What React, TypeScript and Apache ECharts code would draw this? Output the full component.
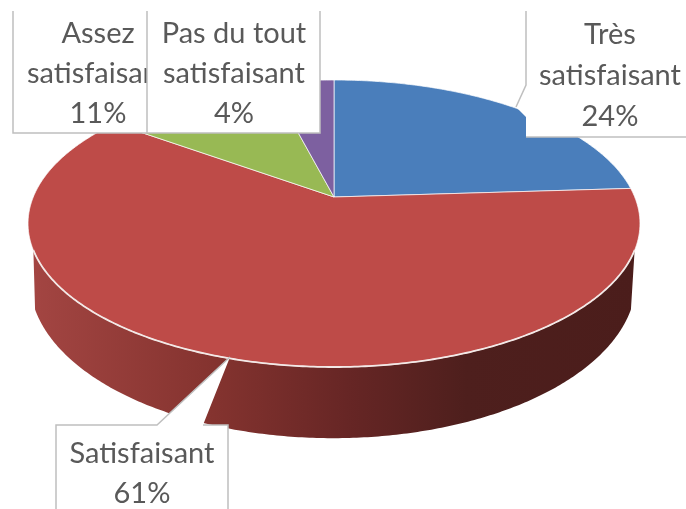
import React, { useEffect, useRef } from "react";
import * as echarts from "echarts";

const categories = ["Très\nsatisfaisant", "Satisfaisant", "Assez\nsatisfaisant", "Pas du tout\nsatisfaisant"];
const shares = [24, 61, 11, 4];
const sliceColors = ["#4a7ebb", "#be4b48", "#98b954", "#7d60a0"];

// Label drawing order follows the reference: Très, Satisfaisant, Assez, Pas du tout.
const labelBoxes = [
  {
    index: 0, cx: 610, lineYs: [32, 73, 114],
    fill: [[526, 11], [686, 11], [686, 137], [526, 137], [526, 117], [516, 107], [526, 85]],
    border: [[526, 11], [526, 85], [516, 107]],
    border2: [[526, 137], [686, 137]],
  },
  {
    index: 1, cx: 142, lineYs: [451, 491],
    fill: [[56, 425], [157, 425], [230, 357], [203, 425], [228, 425], [228, 509], [56, 509]],
    border: [[56, 509], [56, 425], [157, 425], [230, 357]],
    border2: [[203, 425], [228, 425], [228, 509]],
  },
  {
    index: 2, cx: 98, lineYs: [31, 71, 111],
    fill: [[13, 11], [147, 11], [147, 133], [13, 133]],
    border: [[13, 11], [13, 133], [147, 133]],
    border2: null,
  },
  {
    index: 3, cx: 234, lineYs: [31, 71, 111],
    fill: [[147, 11], [320, 11], [320, 133], [147, 133]],
    border: [[147, 11], [147, 133], [320, 133], [320, 11]],
    border2: null,
  },
];

const TOTAL = shares.reduce((a, b) => a + b, 0);
const K = 0.1847;
const topFace = (t: number) => {
  const u = Math.sin(t), v = Math.cos(t), d = 1 + K * v;
  return [334 + (300.7 * u) / d, 197 - (138.6 * v) / d];
};
const bottomFace = (t: number) => {
  const u = Math.sin(t), v = Math.cos(t), d = 1 + K * v;
  return [333 + (298 * u) / d, 251 - (152.6 * v) / d];
};
const SIDE_FROM = (111 * Math.PI) / 180;
const SIDE_TO = (249 * Math.PI) / 180;

function arc(f: (t: number) => number[], a: number, b: number) {
  const n = Math.max(2, Math.ceil(Math.abs(b - a) / 0.01));
  const out: number[][] = [];
  for (let i = 0; i <= n; i++) out.push(f(a + ((b - a) * i) / n));
  return out;
}

function renderSlice(params: any, api: any) {
  const value = api.value(0);
  const before = api.value(1);
  const a = (before / TOTAL) * Math.PI * 2;
  const b = ((before + value) / TOTAL) * Math.PI * 2;
  const children: any[] = [];
  const sa = Math.max(a, SIDE_FROM);
  const sb = Math.min(b, SIDE_TO);
  if (sb > sa) {
    const upper = arc(topFace, sa, sb);
    const lower = arc(bottomFace, sb, sa);
    children.push({
      type: "polygon",
      shape: { points: upper.concat(lower) },
      z2: 1,
      style: {
        fill: new echarts.graphic.LinearGradient(0, 0, 1, 0, [
          { offset: 0, color: "#a34542" },
          { offset: 0.3, color: "#84332f" },
          { offset: 0.52, color: "#672625" },
          { offset: 0.72, color: "#4e1f1d" },
          { offset: 1, color: "#4b1d1b" },
        ]),
      },
    });
    children.push({
      type: "polyline",
      shape: { points: upper },
      z2: 3,
      style: { fill: "none", stroke: "#f3e9e7", lineWidth: 1.8 },
    });
  }
  children.push({
    type: "polygon",
    shape: { points: [[334, 197]].concat(arc(topFace, a, b)) },
    z2: 2,
    style: { fill: sliceColors[params.dataIndex], stroke: "rgba(255,255,255,0.7)", lineWidth: 1 },
  });
  return { type: "group", children };
}

function renderLabel(params: any) {
  const box = labelBoxes[params.dataIndex];
  const base = 10 * (params.dataIndex + 1);
  const line = { fill: "none", stroke: "#bfbfbf", lineWidth: 1.5 };
  const children: any[] = [
    { type: "polygon", z2: base, shape: { points: box.fill }, style: { fill: "#ffffff" } },
    { type: "polyline", z2: base + 1, shape: { points: box.border }, style: line },
  ];
  if (box.border2) children.push({ type: "polyline", z2: base + 1, shape: { points: box.border2 }, style: line });
  const lines = categories[box.index].split("\n").concat(`${shares[box.index]}%`);
  lines.forEach((text, i) => {
    children.push({
      type: "text",
      z2: base + 2,
      style: {
        text,
        x: box.cx,
        y: box.lineYs[i],
        align: "center",
        verticalAlign: "middle",
        fontFamily: "Lato",
        fontSize: 29,
        fill: "#595959",
      },
    });
  });
  return { type: "group", children };
}

export default function App() {
  const ref = useRef<HTMLDivElement>(null);
  useEffect(() => {
    const chart = echarts.init(ref.current!, undefined, { renderer: "svg" });
    let running = 0;
    const sliceData = shares.map((v) => {
      const item = { value: [v, running] };
      running += v;
      return item;
    });
    chart.setOption({
      animation: false,
      backgroundColor: "#ffffff",
      series: [
        {
          type: "custom",
          coordinateSystem: "none",
          renderItem: renderSlice,
          data: sliceData,
          z: 1,
          silent: true,
        },
        {
          type: "custom",
          coordinateSystem: "none",
          renderItem: renderLabel,
          data: labelBoxes.map((b) => ({ value: [shares[b.index]] })),
          z: 2,
          silent: true,
        },
      ],
    });
    return () => chart.dispose();
  }, []);
  return (
    <div
      ref={ref}
      style={{ position: "absolute", left: 0, top: 0, width: 686, height: 509, filter: "blur(0.6px)" }}
    />
  );
}
